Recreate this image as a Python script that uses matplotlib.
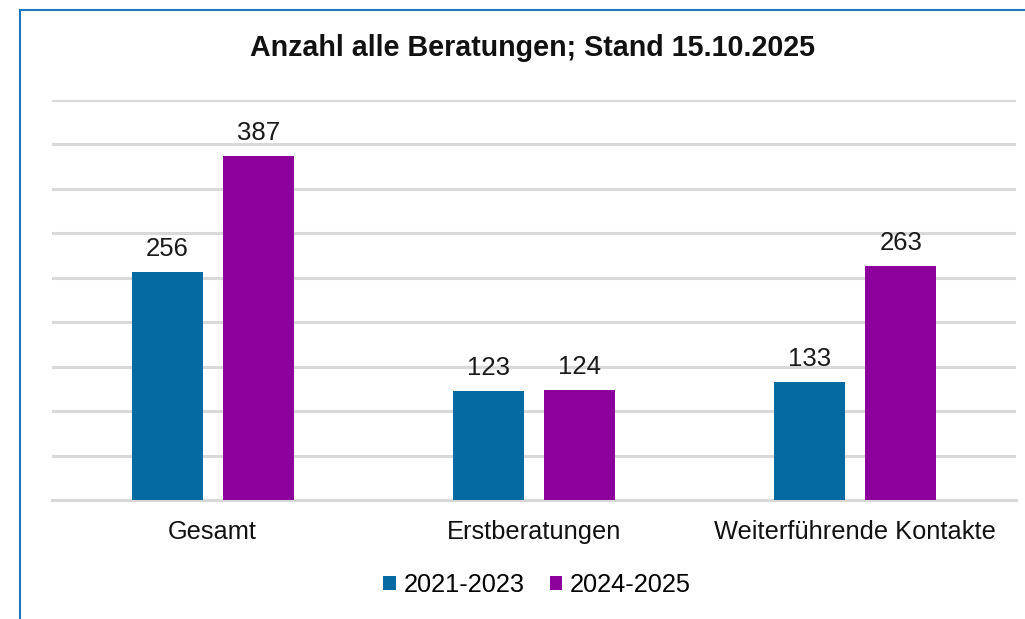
import matplotlib
matplotlib.use("Agg")
import matplotlib.pyplot as plt
import numpy as np
from matplotlib.lines import Line2D

plt.rcParams['font.family'] = ['Liberation Sans', 'DejaVu Sans']

categories = ["Gesamt", "Erstberatungen", "Weiterführende Kontakte"]
series_names = ["2021-2023", "2024-2025"]
values_2021_2023 = [256, 123, 133]
values_2024_2025 = [387, 124, 263]
colors = ["#046AA1", "#8C009B"]

fig = plt.figure(figsize=(10.25, 6.19), dpi=100)
ax = fig.add_axes([52/1025, 119/619, 964/1025, 400/619])

x = np.arange(len(categories))
w = 0.221
off = w/2 + 0.031
b1 = ax.bar(x - off, values_2021_2023, w, color=colors[0], label=series_names[0], zorder=3)
b2 = ax.bar(x + off, values_2024_2025, w, color=colors[1], label=series_names[1], zorder=3)

for bars in (b1, b2):
    for r in bars:
        ax.annotate(f"{int(r.get_height())}", (r.get_x() + r.get_width()/2, r.get_height()),
                    xytext=(0, 8), textcoords="offset points", ha="center", va="bottom",
                    fontsize=18.5, color="#1a1a1a")

ax.set_xlim(-0.5, 2.5)
ax.set_ylim(0, 450)
ax.set_yticks(np.arange(0, 451, 50))
ax.yaxis.grid(True, color="#D9D9D9", linewidth=2.2, zorder=0)
ax.axhline(0, color="#D9D9D9", linewidth=2.2, zorder=1, clip_on=False)
ax.tick_params(axis="y", left=False, labelleft=False)
ax.tick_params(axis="x", bottom=False, pad=11, labelsize=18.3, colors="#111111")
ax.set_xticks(x)
ax.set_xticklabels(categories)
for s in ax.spines.values():
    s.set_visible(False)

fig.text(532/1025, 1 - 48/619, "Anzahl alle Beratungen; Stand 15.10.2025", ha="center", va="center",
         fontsize=20.6, fontweight="bold", color="#111111")

fig.legend(handles=[b1, b2], loc="center", bbox_to_anchor=(537/1025, 1 - 585/619), ncol=2,
           frameon=False, fontsize=18.3, handlelength=0.5, handleheight=0.5, handletextpad=0.3,
           columnspacing=1.0)

# blue frame around chart (top and left edges)
fig.add_artist(Line2D([20/1025, 1.0], [1 - 10/619, 1 - 10/619], color="#1F77C0", linewidth=1.5,
                      transform=fig.transFigure))
fig.add_artist(Line2D([20/1025, 20/1025], [0, 1 - 10/619], color="#1F77C0", linewidth=1.5,
                      transform=fig.transFigure))

fig.savefig("out.png", dpi=100)
